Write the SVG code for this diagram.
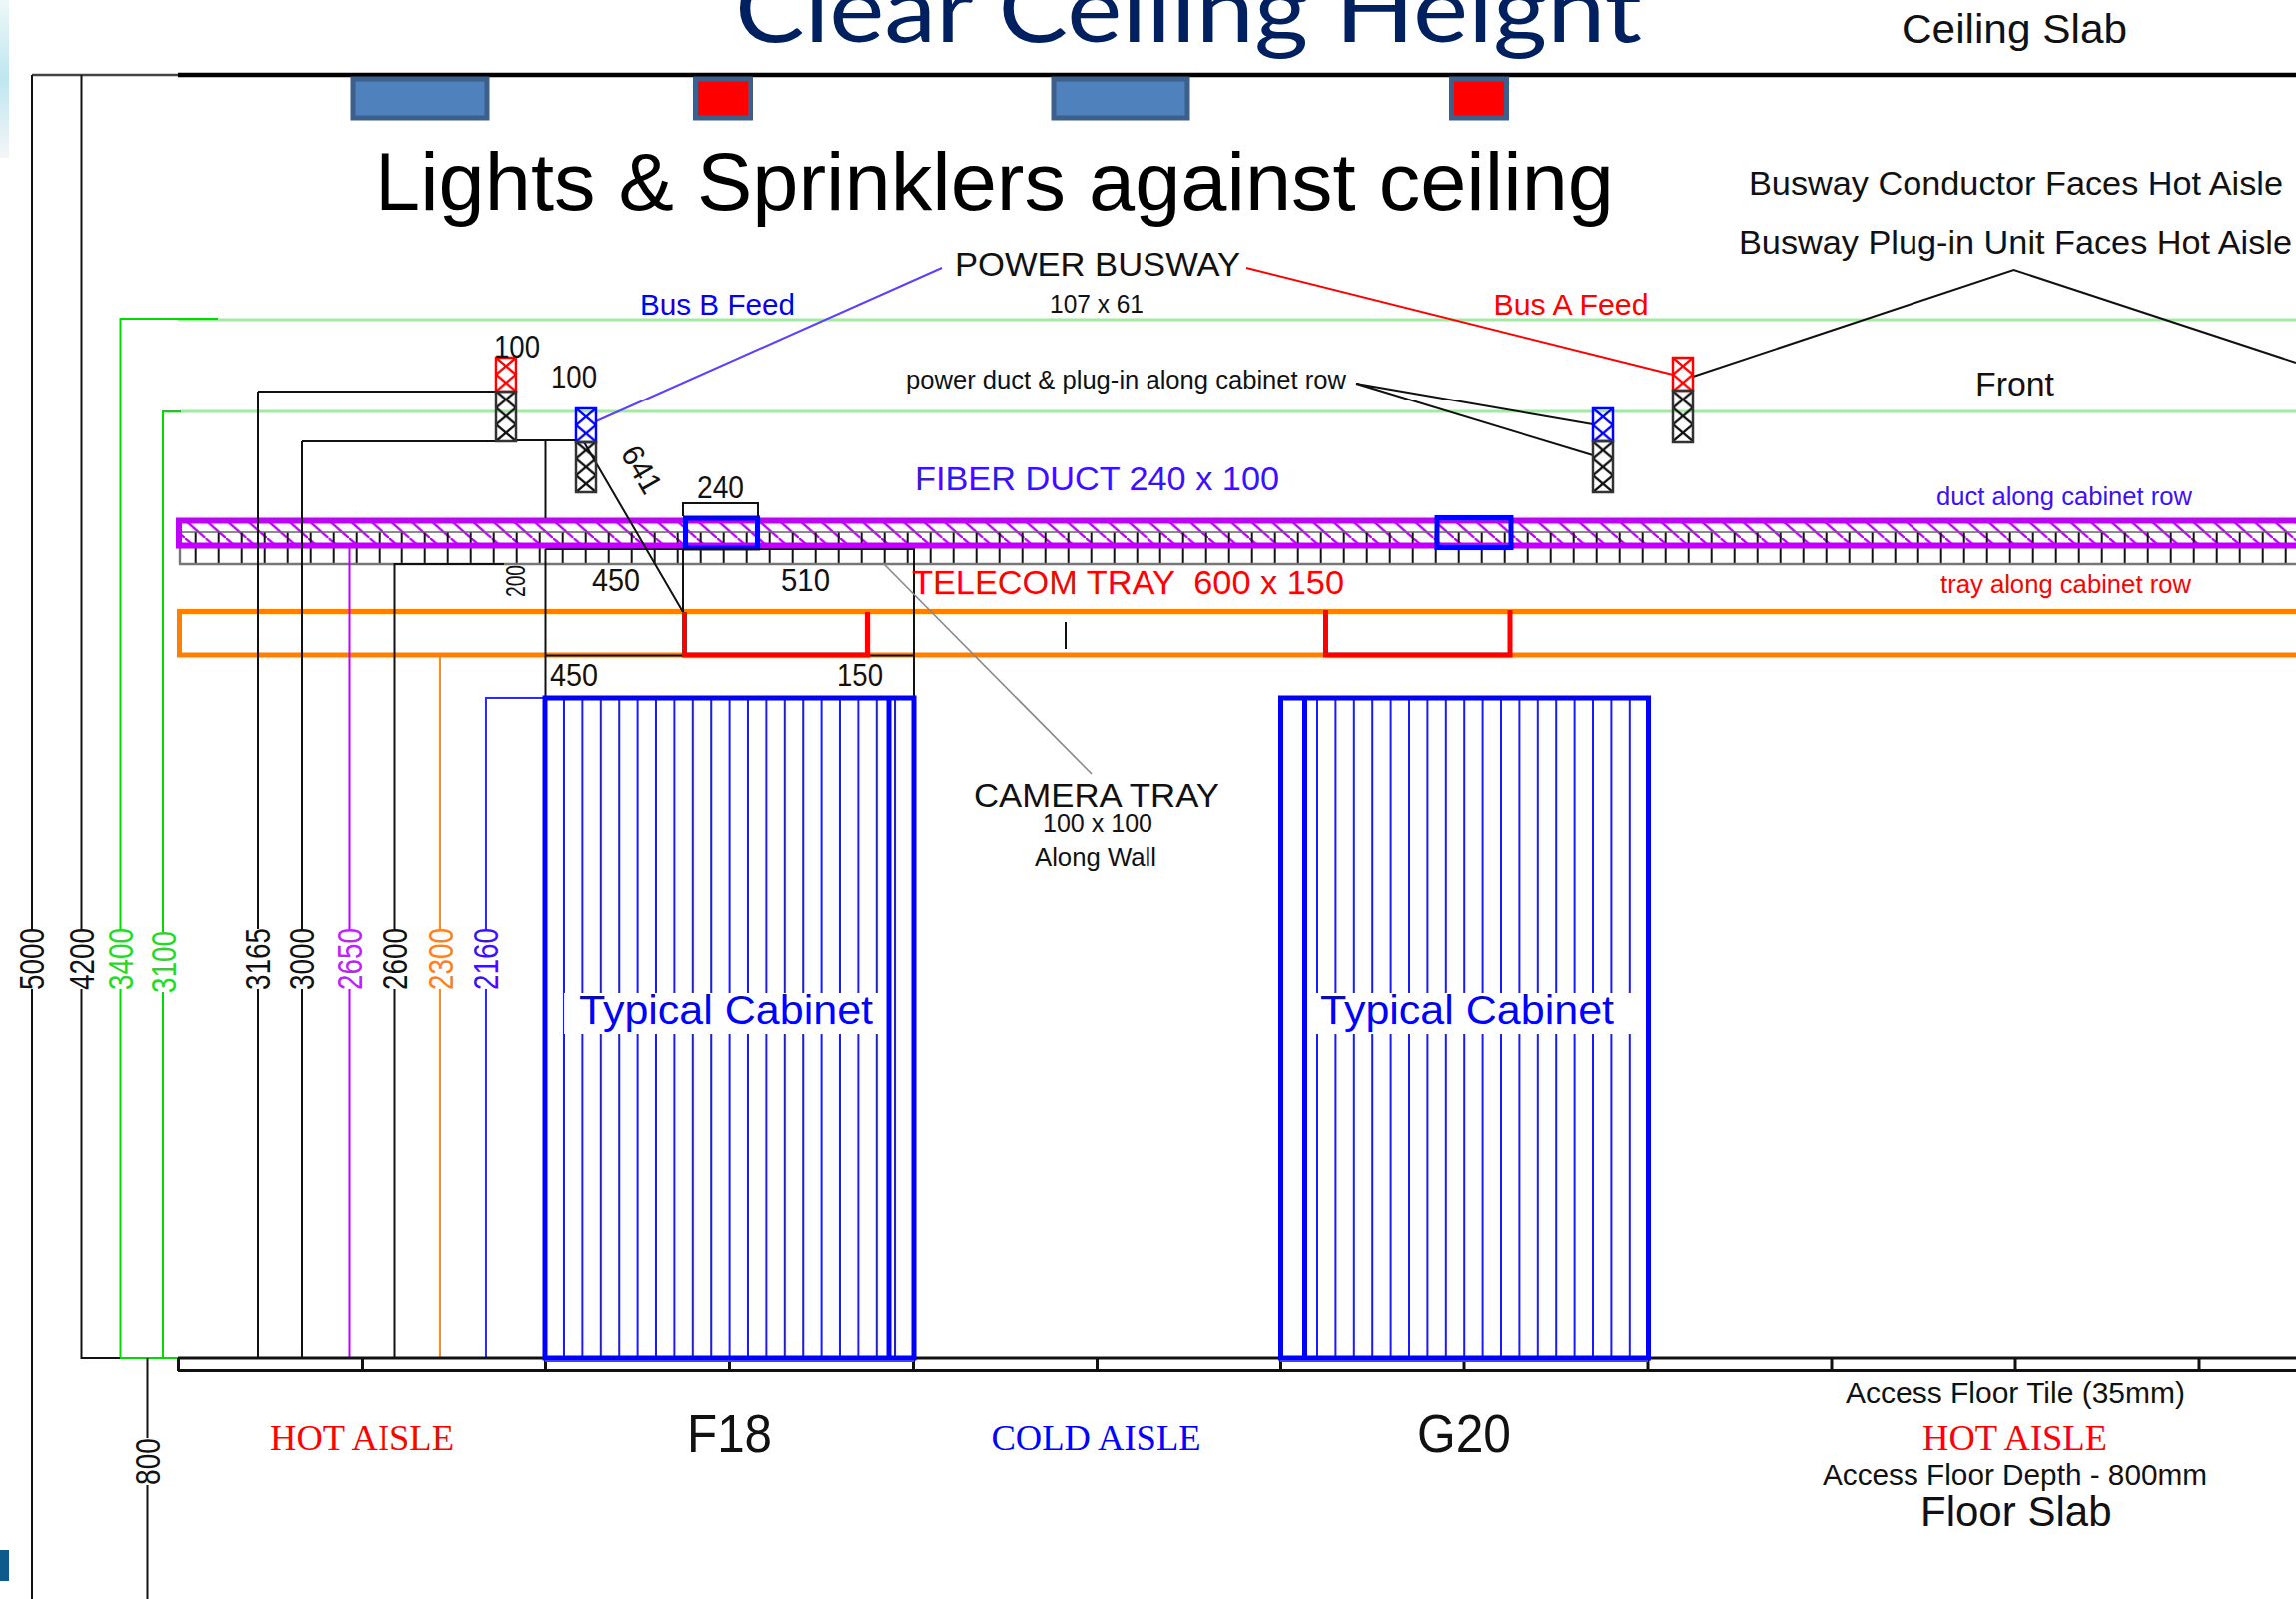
<svg xmlns="http://www.w3.org/2000/svg" width="2299" height="1601" viewBox="0 0 2299 1601">
<style>
text{font-family:"Liberation Sans",Arial,sans-serif;fill:#111}
.serif{font-family:"Liberation Serif","Times New Roman",serif}
.r{fill:#f00}.b{fill:#00f}.v{fill:#3a10ff}.g{fill:#1fdc1f}.m{fill:#c020ff}.o{fill:#ff7f1a}
.ln{fill:none;stroke:#111;stroke-width:2}
.gr{fill:none;stroke:#00dc00;stroke-width:2}
.lg{fill:none;stroke:#a2eaa2;stroke-width:3}
.thin{fill:none;stroke-width:2}
.light{fill:#4f81bd;stroke:#3d5f8c;stroke-width:5}
.spr{fill:#f00;stroke:#3d5f8c;stroke-width:5}
.cab{fill:none;stroke:#00f;stroke-width:5}
.cabl{fill:none;stroke:#1a1aff;stroke-width:2}
.red{fill:none;stroke:#f00;stroke-width:5}
.duct{fill:none;stroke:#00f;stroke-width:5}
</style>
<defs>
<linearGradient id="pale" x1="0" y1="0" x2="0" y2="1"><stop offset="0" stop-color="#eef8f8"/><stop offset=".5" stop-color="#bfe6f0"/><stop offset="1" stop-color="#f4f6f6"/></linearGradient>
<pattern id="xk" patternUnits="userSpaceOnUse" width="20" height="16.8"><path d="M0 0L20 16.8M20 0L0 16.8" stroke="#111" stroke-width="2.4" fill="none"/></pattern>
<pattern id="xr" patternUnits="userSpaceOnUse" width="20" height="16.8"><path d="M0 0L20 16.8M20 0L0 16.8" stroke="#f00" stroke-width="2.4" fill="none"/></pattern>
<pattern id="xb" patternUnits="userSpaceOnUse" width="20" height="16.8"><path d="M0 0L20 16.8M20 0L0 16.8" stroke="#00f" stroke-width="2.4" fill="none"/></pattern>
<pattern id="hatch" patternUnits="userSpaceOnUse" width="20.5" height="18" patternTransform="translate(185,521)"><path d="M-2.280 -2L22.780 20" stroke="#bf00ff" stroke-width="2.4" fill="none"/></pattern>
<pattern id="ticks" patternUnits="userSpaceOnUse" width="23" height="32" patternTransform="translate(194.7,533)"><path d="M1 0V32" stroke="#111" stroke-width="2" fill="none"/></pattern>
</defs>
<rect width="2299" height="1601" fill="#fff"/>
<g id="page-edge">
<rect x="0" y="0" width="9" height="158" fill="url(#pale)"/>
<rect x="0" y="1552" width="9" height="31" fill="#0e5a8c"/>
</g>
<text x="736" y="42" font-size="94" textLength="908" lengthAdjust="spacingAndGlyphs" style="font-family:Lato,'Open Sans',sans-serif;fill:#002060">Clear Ceiling Height</text>
<g id="levels">
<path class="lg" d="M178 320H2299M180 412H2299"/>
<path class="gr" d="M218 319H120.5V930M120.5 990V1360M181 412H163V933M163 993V1360M120 1360H218"/>
</g>
<g id="ceiling">
<path fill="none" stroke="#444" stroke-width="2.5" d="M32 75H178"/>
<path fill="none" stroke="#000" stroke-width="4.5" d="M178 75H2299"/>
<text x="1904" y="43" font-size="40" textLength="226" lengthAdjust="spacingAndGlyphs">Ceiling Slab</text>
</g>
<g id="lights">
<rect class="light" x="353" y="79" width="135" height="39"/>
<rect class="spr" x="696.500" y="79" width="55" height="39"/>
<rect class="light" x="1055" y="79" width="134" height="39"/>
<rect class="spr" x="1453.500" y="79" width="55" height="39"/>
<text x="375" y="210" font-size="82" style="fill:#000" textLength="1241" lengthAdjust="spacingAndGlyphs">Lights &amp; Sprinklers against ceiling</text>
</g>
<g id="fiber-duct">
<rect x="179" y="521" width="2120" height="26" fill="url(#hatch)"/>
<rect x="179" y="533" width="2120" height="32" fill="url(#ticks)"/>
<path fill="none" stroke="#666" stroke-width="1.6" d="M179 533H2299"/>
<path fill="none" stroke="#777" stroke-width="2.4" d="M179 565H2299M180 549V565"/>
<path fill="none" stroke="#bf00ff" stroke-width="6" d="M2299 521.500H179V546.500H2299"/>
<rect class="duct" x="686.500" y="519" width="72" height="30"/>
<rect class="duct" x="1439" y="518.500" width="74" height="30"/>
</g>
<g id="telecom-tray">
<path fill="none" stroke="#ff7f00" stroke-width="5" d="M2299 612.500H179.500V656H2299"/>
</g>
<g id="connectors">
<path class="ln" d="M32 75V930M32 990V1601M81.500 75V930M81.500 990V1360H120M258 392V930M258 990V1360M258 392H497M302 442V930M302 990V1360M302 442H497M517 441H577M546.500 441V519M147.500 1360V1440M147.500 1487V1601"/>
<path class="ln" d="M395.500 1360V990M395.500 930V565H505M546.500 550H915V698M546.500 550V698M684 550V613M546.500 656.500H915M585 443L684 613M1067 623V650M1358 384L1595 425M1358 384L1595 456"/>
<path class="ln" d="M684 517V504H759V517"/>
<path class="thin" stroke="#c000ff" d="M349.500 549V930M349.500 990V1360"/>
<path class="thin" stroke="#ff8a1f" d="M441 658V930M441 990V1360"/>
<path class="thin" stroke="#2a2aff" d="M546 699H487V930M487 990V1360"/>
<path fill="none" stroke="#888" stroke-width="1.6" d="M885 565L1093 775"/>
<path class="thin" stroke="#5a40ff" d="M597 422L943 268"/>
<path class="thin" stroke="#f00" d="M1248 268L1675 375"/>
<path class="ln" d="M1695 377L2016.500 270L2299 363"/>
<path class="red" d="M685.500 613V656H868.500V613M1327.500 611V656H1512V611"/>
</g>
<g id="busway-a-left" transform="translate(497,358)"><rect width="20" height="34" fill="url(#xr)" stroke="#f00" stroke-width="2.500"/><rect y="34" width="20" height="50" fill="url(#xk)" stroke="#333" stroke-width="2.500"/></g>
<g id="busway-b-left" transform="translate(577,409)"><rect width="20" height="34" fill="url(#xb)" stroke="#00f" stroke-width="2.500"/><rect y="34" width="20" height="50" fill="url(#xk)" stroke="#333" stroke-width="2.500"/></g>
<g id="busway-b-right" transform="translate(1595,409)"><rect width="20" height="33" fill="url(#xb)" stroke="#00f" stroke-width="2.500"/><rect y="33" width="20" height="51" fill="url(#xk)" stroke="#333" stroke-width="2.500"/></g>
<g id="busway-a-right" transform="translate(1675,358)"><rect width="20" height="33" fill="url(#xr)" stroke="#f00" stroke-width="2.500"/><rect y="33" width="20" height="52" fill="url(#xk)" stroke="#333" stroke-width="2.500"/></g>
<g id="floor">
<path fill="none" stroke="#111" stroke-width="3" d="M178 1360H2299M178 1372.500H2299M178.500 1360V1373M362.500 1360V1373M546.500 1360V1373M730.500 1360V1373M914.500 1360V1373M1098.500 1360V1373M1282.500 1360V1373M1466 1360V1373M1650 1360V1373M1834 1360V1373M2018 1360V1373M2202 1360V1373"/>
</g>
<g id="cabinet-f18">
<path class="cabl" d="M565 698V1360M583.400 698V1360M601.800 698V1360M620.200 698V1360M638.600 698V1360M657 698V1360M675.400 698V1360M693.800 698V1360M712.200 698V1360M730.600 698V1360M749 698V1360M767.400 698V1360M785.800 698V1360M804.200 698V1360M822.600 698V1360M841 698V1360M859.400 698V1360M877.800 698V1360M896 698V1360"/>
<rect x="565" y="994" width="325" height="41" fill="#fff"/>
<rect class="cab" x="546" y="699" width="369" height="661"/>
<path class="cab" d="M890 699V1360"/>
<path fill="none" stroke="#4040ff" stroke-width="2" d="M546 1363H915"/>
<text class="b" x="580" y="1025" font-size="40" textLength="294" lengthAdjust="spacingAndGlyphs">Typical Cabinet</text>
</g>
<g id="cabinet-g20">
<path class="cabl" d="M1319 698V1360M1337.400 698V1360M1355.800 698V1360M1374.200 698V1360M1392.600 698V1360M1411 698V1360M1429.400 698V1360M1447.800 698V1360M1466.200 698V1360M1484.600 698V1360M1503 698V1360M1521.400 698V1360M1539.800 698V1360M1558.200 698V1360M1576.600 698V1360M1595 698V1360M1613.400 698V1360M1631.800 698V1360"/>
<rect x="1307" y="994" width="327" height="41" fill="#fff"/>
<rect class="cab" x="1282.500" y="699" width="368" height="661"/>
<path class="cab" d="M1306.500 699V1360"/>
<path fill="none" stroke="#4040ff" stroke-width="2" d="M1282 1363H1650"/>
<text class="b" x="1322" y="1025" font-size="40" textLength="294" lengthAdjust="spacingAndGlyphs">Typical Cabinet</text>
</g>
<g id="labels">
<text x="956" y="276" font-size="33" textLength="286" lengthAdjust="spacingAndGlyphs">POWER BUSWAY</text>
<text x="1051" y="313" font-size="26" textLength="94" lengthAdjust="spacingAndGlyphs">107 x 61</text>
<text class="b" x="641" y="315" font-size="29" textLength="155" lengthAdjust="spacingAndGlyphs">Bus B Feed</text>
<text class="r" x="1495.500" y="315" font-size="29" textLength="155" lengthAdjust="spacingAndGlyphs">Bus A Feed</text>
<text x="495" y="358" font-size="31" textLength="46" lengthAdjust="spacingAndGlyphs">100</text>
<text x="552" y="388" font-size="31" textLength="46" lengthAdjust="spacingAndGlyphs">100</text>
<text x="907" y="389" font-size="25" textLength="441" lengthAdjust="spacingAndGlyphs">power duct &amp; plug-in along cabinet row</text>
<text x="1751" y="195" font-size="34" textLength="535" lengthAdjust="spacingAndGlyphs">Busway Conductor Faces Hot Aisle</text>
<text x="1741" y="254" font-size="34" textLength="554" lengthAdjust="spacingAndGlyphs">Busway Plug-in Unit Faces Hot Aisle</text>
<text x="1978" y="396" font-size="34" textLength="79" lengthAdjust="spacingAndGlyphs">Front</text>
<text transform="translate(621,454) rotate(60)" font-size="31" textLength="50" lengthAdjust="spacingAndGlyphs">641</text>
<text x="698" y="499" font-size="31" textLength="47" lengthAdjust="spacingAndGlyphs">240</text>
<text class="v" x="916" y="491" font-size="33" textLength="365" lengthAdjust="spacingAndGlyphs">FIBER DUCT 240 x 100</text>
<text class="v" x="1939" y="506" font-size="25" textLength="256" lengthAdjust="spacingAndGlyphs">duct along cabinet row</text>
<text class="r" x="1943" y="594" font-size="25" textLength="251" lengthAdjust="spacingAndGlyphs">tray along cabinet row</text>
<text class="r" x="913" y="595" font-size="33" textLength="433" lengthAdjust="spacingAndGlyphs" xml:space="preserve">TELECOM TRAY  600 x 150</text>
<text x="593" y="592" font-size="31" textLength="48" lengthAdjust="spacingAndGlyphs">450</text>
<text x="782" y="592" font-size="31" textLength="49" lengthAdjust="spacingAndGlyphs">510</text>
<text transform="translate(526,598) rotate(-90)" font-size="27" textLength="32" lengthAdjust="spacingAndGlyphs">200</text>
<text x="551" y="687" font-size="31" textLength="48" lengthAdjust="spacingAndGlyphs">450</text>
<text x="838" y="687" font-size="31" textLength="46" lengthAdjust="spacingAndGlyphs">150</text>
<text x="975" y="808" font-size="33" textLength="246" lengthAdjust="spacingAndGlyphs">CAMERA TRAY</text>
<text x="1044" y="833" font-size="25" textLength="110" lengthAdjust="spacingAndGlyphs">100 x 100</text>
<text x="1036" y="867" font-size="25" textLength="122" lengthAdjust="spacingAndGlyphs">Along Wall</text>
<text class="serif r" x="270" y="1452" font-size="36" textLength="185" lengthAdjust="spacingAndGlyphs">HOT AISLE</text>
<text x="688" y="1454" font-size="53" textLength="85" lengthAdjust="spacingAndGlyphs">F18</text>
<text class="serif b" x="992.500" y="1452" font-size="36" textLength="210" lengthAdjust="spacingAndGlyphs">COLD AISLE</text>
<text x="1419" y="1454" font-size="53" textLength="94" lengthAdjust="spacingAndGlyphs">G20</text>
<text x="1848" y="1405" font-size="30" textLength="340" lengthAdjust="spacingAndGlyphs">Access Floor Tile (35mm)</text>
<text class="serif r" x="1925" y="1452" font-size="36" textLength="185" lengthAdjust="spacingAndGlyphs">HOT AISLE</text>
<text x="1825" y="1487" font-size="30" textLength="385" lengthAdjust="spacingAndGlyphs">Access Floor Depth - 800mm</text>
<text x="1923" y="1528" font-size="42" textLength="191.500" lengthAdjust="spacingAndGlyphs">Floor Slab</text>
</g>
<g id="dimension-labels" font-size="35">
<text transform="translate(44,991) rotate(-90)" textLength="62" lengthAdjust="spacingAndGlyphs">5000</text>
<text transform="translate(94,991) rotate(-90)" textLength="62" lengthAdjust="spacingAndGlyphs">4200</text>
<text class="g" transform="translate(133,991) rotate(-90)" textLength="62" lengthAdjust="spacingAndGlyphs">3400</text>
<text class="g" transform="translate(176,994) rotate(-90)" textLength="62" lengthAdjust="spacingAndGlyphs">3100</text>
<text transform="translate(270,991) rotate(-90)" textLength="62" lengthAdjust="spacingAndGlyphs">3165</text>
<text transform="translate(314,991) rotate(-90)" textLength="62" lengthAdjust="spacingAndGlyphs">3000</text>
<text class="m" transform="translate(362,991) rotate(-90)" textLength="62" lengthAdjust="spacingAndGlyphs">2650</text>
<text transform="translate(408,991) rotate(-90)" textLength="62" lengthAdjust="spacingAndGlyphs">2600</text>
<text class="o" transform="translate(454,991) rotate(-90)" textLength="62" lengthAdjust="spacingAndGlyphs">2300</text>
<text class="v" transform="translate(499,991) rotate(-90)" textLength="62" lengthAdjust="spacingAndGlyphs">2160</text>
<text transform="translate(160,1487) rotate(-90)" font-size="35" textLength="47" lengthAdjust="spacingAndGlyphs">800</text>
</g>
</svg>
